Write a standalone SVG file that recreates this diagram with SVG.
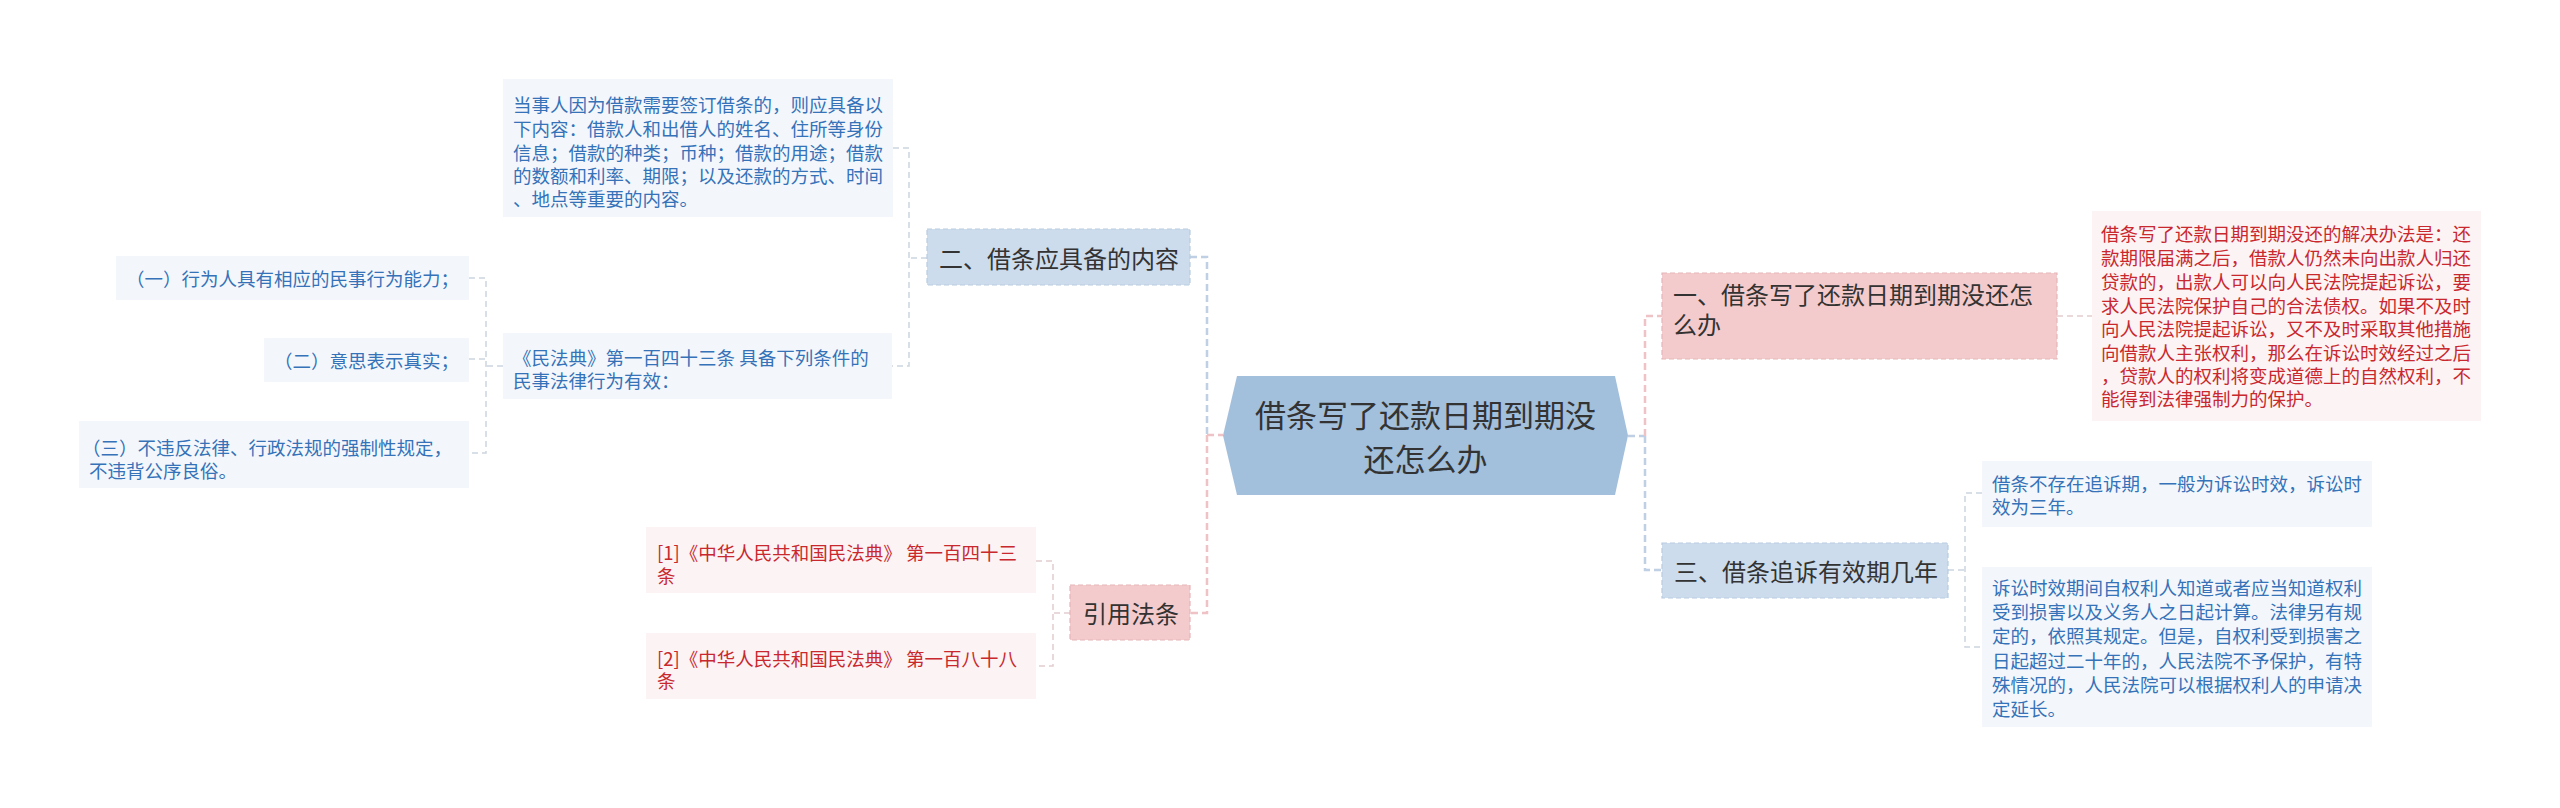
<svg xmlns="http://www.w3.org/2000/svg" width="2560" height="808" viewBox="0 0 2560 808">
<style>
text{font-family:"Noto Sans CJK SC","Noto Sans",sans-serif;dominant-baseline:central}
.bg{fill:#ffffff}
.main-b{fill:none;stroke:#bfd0e4;stroke-width:2.5;stroke-dasharray:7 4}
.main-p{fill:none;stroke:#efc3c6;stroke-width:2.5;stroke-dasharray:7 4}
.sub-b{fill:none;stroke:#cdd5de;stroke-width:1.5;stroke-dasharray:6 4}
.sub-p{fill:none;stroke:#e2cdcf;stroke-width:1.5;stroke-dasharray:6 4}
.nb{fill:#ccdcec;stroke:#b7cbe0;stroke-width:1.2;stroke-dasharray:5 3}
.np{fill:#f4cbcc;stroke:#e6b5b8;stroke-width:1.2;stroke-dasharray:5 3}
.tb{fill:#f3f7fc}
.tp{fill:#fcf3f4}
.nt{font-size:24px;fill:#333333}
.ct{font-size:31px;fill:#333333;text-anchor:middle}
.bt{font-size:18.5px;fill:#3572b8}
.rt{font-size:18.5px;fill:#c8282e}
</style>
<rect class="bg" x="0" y="0" width="2560" height="808"/>
<g id="connectors">
<path class="main-b" d="M1190,257 H1207 V435"/>
<path class="main-p" d="M1207,435 V613 H1190"/>
<path class="main-p" d="M1207,435 H1223"/>
<path class="main-b" d="M1628,436 H1645"/>
<path class="main-p" d="M1645,436 V316 H1662"/>
<path class="main-b" d="M1645,436 V570 H1662"/>
<path class="sub-b" d="M927,258 H909"/>
<path class="sub-b" d="M893,148 H909 V366 H892"/>
<path class="sub-b" d="M503,366 H486"/>
<path class="sub-b" d="M469,278 H486 V453 H469"/>
<path class="sub-b" d="M469,359 H486"/>
<path class="sub-p" d="M1070,613 H1053"/>
<path class="sub-p" d="M1036,561 H1053 V666 H1036"/>
<path class="sub-p" d="M2057,316 H2092"/>
<path class="sub-b" d="M1948,570 H1965"/>
<path class="sub-b" d="M1982,493 H1965 V647 H1982"/>
</g>
<g id="center">
<polygon points="1223,435.5 1237,376 1615,376 1628,435.5 1615,495 1237,495" fill="#a2bfdc"/>
<text class="ct" x="1425.5" y="413">借条写了还款日期到期没</text>
<text class="ct" x="1425.5" y="457">还怎么办</text>
</g>
<g id="node-2">
<rect class="nb" x="927" y="229" width="263" height="56"/>
<text class="nt" x="939" y="257">二、借条应具备的内容</text>
</g>
<g id="box-a">
<rect class="tb" x="503" y="79" width="390" height="138"/>
<text class="bt" x="513" y="104">当事人因为借款需要签订借条的，则应具备以</text>
<text class="bt" x="513" y="128">下内容：借款人和出借人的姓名、住所等身份</text>
<text class="bt" x="513" y="152">信息；借款的种类；币种；借款的用途；借款</text>
<text class="bt" x="513" y="175">的数额和利率、期限；以及还款的方式、时间</text>
<text class="bt" x="513" y="198">、地点等重要的内容。</text>
</g>
<g id="box-minfadian">
<rect class="tb" x="503" y="333" width="389" height="66"/>
<text class="bt" x="513" y="357">《民法典》第一百四十三条 具备下列条件的</text>
<text class="bt" x="513" y="380">民事法律行为有效：</text>
</g>
<g id="box-1">
<rect class="tb" x="116" y="256" width="353" height="44"/>
<text class="bt" x="459" y="278" text-anchor="end">（一）行为人具有相应的民事行为能力；</text>
</g>
<g id="box-2">
<rect class="tb" x="264" y="338" width="205" height="44"/>
<text class="bt" x="459" y="360" text-anchor="end">（二）意思表示真实；</text>
</g>
<g id="box-3">
<rect class="tb" x="79" y="421" width="390" height="67"/>
<text class="bt" x="82" y="447">（三）不违反法律、行政法规的强制性规定，</text>
<text class="bt" x="89" y="470">不违背公序良俗。</text>
</g>
<g id="node-cite">
<rect class="np" x="1070" y="585" width="120" height="55"/>
<text class="nt" x="1083" y="612">引用法条</text>
</g>
<g id="cite-1">
<rect class="tp" x="646" y="527" width="390" height="66"/>
<text class="rt" x="657" y="552">[1]《中华人民共和国民法典》 第一百四十三</text>
<text class="rt" x="657" y="575">条</text>
</g>
<g id="cite-2">
<rect class="tp" x="646" y="633" width="390" height="66"/>
<text class="rt" x="657" y="658">[2]《中华人民共和国民法典》 第一百八十八</text>
<text class="rt" x="657" y="680">条</text>
</g>
<g id="node-1">
<rect class="np" x="1662" y="273" width="395" height="86"/>
<text class="nt" x="1673" y="293">一、借条写了还款日期到期没还怎</text>
<text class="nt" x="1673" y="323">么办</text>
</g>
<g id="box-red">
<rect class="tp" x="2092" y="211" width="389" height="210"/>
<text class="rt" x="2101" y="233">借条写了还款日期到期没还的解决办法是：还</text>
<text class="rt" x="2101" y="257">款期限届满之后，借款人仍然未向出款人归还</text>
<text class="rt" x="2101" y="281">贷款的，出款人可以向人民法院提起诉讼，要</text>
<text class="rt" x="2101" y="305">求人民法院保护自己的合法债权。如果不及时</text>
<text class="rt" x="2101" y="328">向人民法院提起诉讼，又不及时采取其他措施</text>
<text class="rt" x="2101" y="352">向借款人主张权利，那么在诉讼时效经过之后</text>
<text class="rt" x="2101" y="375">，贷款人的权利将变成道德上的自然权利，不</text>
<text class="rt" x="2101" y="398">能得到法律强制力的保护。</text>
</g>
<g id="node-3">
<rect class="nb" x="1662" y="543" width="286" height="55"/>
<text class="nt" x="1674" y="570">三、借条追诉有效期几年</text>
</g>
<g id="box-b1">
<rect class="tb" x="1982" y="461" width="390" height="66"/>
<text class="bt" x="1992" y="483">借条不存在追诉期，一般为诉讼时效，诉讼时</text>
<text class="bt" x="1992" y="506">效为三年。</text>
</g>
<g id="box-b2">
<rect class="tb" x="1982" y="567" width="390" height="160"/>
<text class="bt" x="1992" y="587">诉讼时效期间自权利人知道或者应当知道权利</text>
<text class="bt" x="1992" y="611">受到损害以及义务人之日起计算。法律另有规</text>
<text class="bt" x="1992" y="635">定的，依照其规定。但是，自权利受到损害之</text>
<text class="bt" x="1992" y="660">日起超过二十年的，人民法院不予保护，有特</text>
<text class="bt" x="1992" y="684">殊情况的，人民法院可以根据权利人的申请决</text>
<text class="bt" x="1992" y="708">定延长。</text>
</g>
</svg>
